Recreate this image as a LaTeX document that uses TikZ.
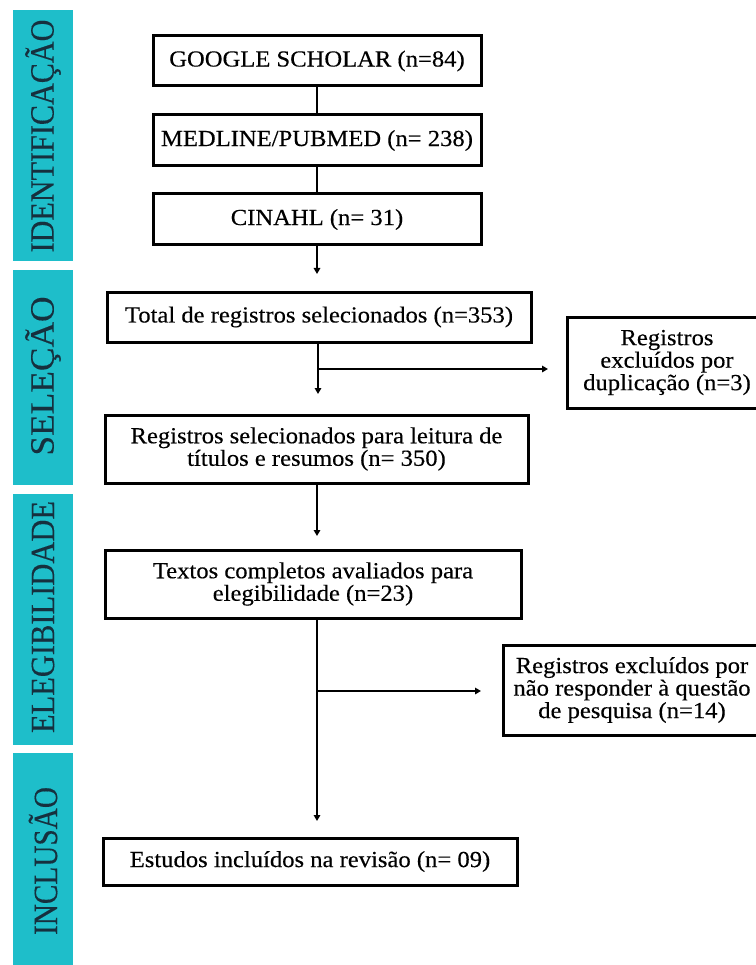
\documentclass[tikz,border=0pt]{standalone}
\usepackage{fontspec}
\setmainfont[FakeStretch=1.07,FakeBold=0.3]{Liberation Serif}
\newfontfamily\sidefont[FakeBold=0.3]{Liberation Serif}
\usetikzlibrary{arrows.meta}
\definecolor{barcyan}{RGB}{30,190,202}
\definecolor{bartext}{RGB}{22,48,62}
\begin{document}
\begin{tikzpicture}[x=1pt,y=-1pt,
  box/.style={draw=black, line width=3pt, fill=white, inner sep=0pt, align=center, font=\fontsize{23}{22.5}\selectfont},
  link/.style={line width=1.5pt},
  arr/.style={line width=1.5pt, -{Triangle[length=6pt,width=6.5pt]}},
  barlabel/.style={rotate=90, text=bartext, inner sep=0pt, font=\sidefont\fontsize{34}{34}\selectfont}
]
\useasboundingbox[fill=white] (0,0) rectangle (755,965);

% side bars
\fill[barcyan] (13,10) rectangle (73,261);
\fill[barcyan] (13,270) rectangle (73,485);
\fill[barcyan] (13,494) rectangle (73,745);
\fill[barcyan] (13,753) rectangle (73,965);
\node[barlabel] (l1) at (43,136) {\scalebox{0.887}[1]{IDENTIFICAÇÃO}};
\node[barlabel] (l2) at (43,376) {\scalebox{1.04}[1]{SELEÇÃO}};
\node[barlabel] (l3) at (43,617) {\scalebox{0.897}[1]{ELEGIBILIDADE}};
\node[barlabel] (l4) at (43,861) {\scalebox{0.861}[1]{INCLUSÃO}};

% identification
\node[box, minimum width=328pt, minimum height=50pt] (b1) at (317,61) {GOOGLE SCHOLAR (n=84)};
\node[box, minimum width=328pt, minimum height=51pt] (b2) at (317,140.5) {MEDLINE/PUBMED (n= 238)};
\node[box, minimum width=328pt, minimum height=51pt] (b3) at (317,219.5) {CINAHL (n= 31)};
\coordinate (a1) at (317,274);
\draw[link] (b1.south) -- (b2.north);
\draw[link] (b2.south) -- (b3.north);
\draw[arr] (b3.south) -- (a1);

% selection
\node[box, minimum width=424pt, minimum height=50pt] (b4) at (319,317) {Total de registros selecionados (n=353)};
\coordinate (j1) at (318,369);
\coordinate (a2) at (318,394);
\coordinate (a3) at (548,369);
\draw[link] (b4.south -| j1) -- (j1);
\draw[arr] (j1) -- (a2);
\draw[arr] (j1) -- (a3);
\node[box, minimum width=200pt, minimum height=91pt] (d1) at (667,362.5) {Registros\\excluídos por\\duplicação (n=3)};

\node[box, minimum width=423pt, minimum height=68pt] (b5) at (316.5,449) {Registros selecionados para leitura de\\títulos e resumos (n= 350)};
\coordinate (a4) at (317,536);
\draw[arr] (b5.south -| a4) -- (a4);

% eligibility
\node[box, minimum width=416pt, minimum height=68pt] (b6) at (313,584) {Textos completos avaliados para\\elegibilidade (n=23)};
\coordinate (j2) at (317,691);
\coordinate (a5) at (317,821);
\coordinate (a6) at (481,691);
\draw[arr] (b6.south -| a5) -- (a5);
\draw[arr] (j2) -- (a6);
\node[box, minimum width=258pt, minimum height=90pt] (d2) at (632,690) {Registros excluídos por\\não responder à questão\\de pesquisa (n=14)};

% inclusion
\node[box, minimum width=414pt, minimum height=47pt] (b7) at (310,861.5) {Estudos incluídos na revisão (n= 09)};
\end{tikzpicture}
\end{document}
